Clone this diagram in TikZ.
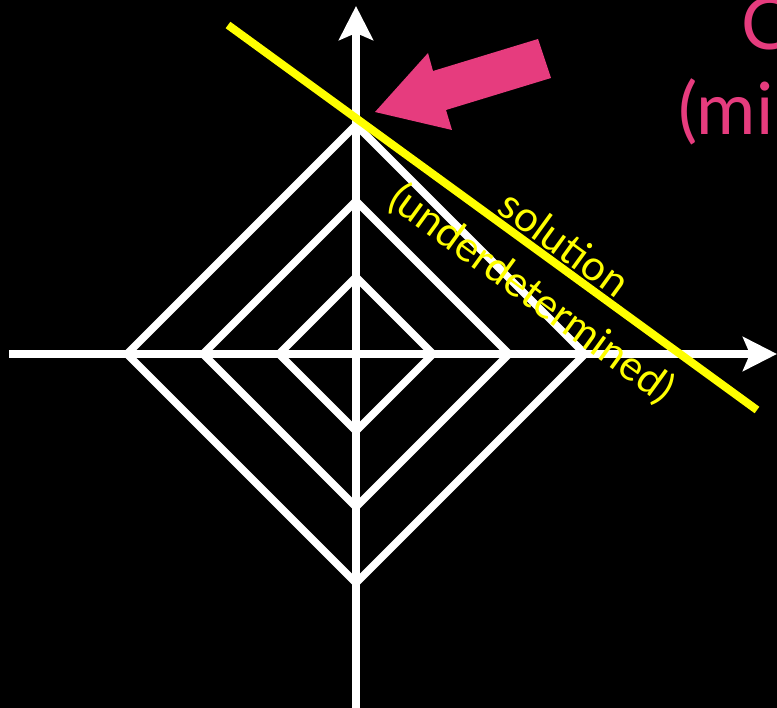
\documentclass[tikz,border=0pt]{standalone}
\usepackage{fontspec}
\setmainfont{Lato}
\usetikzlibrary{arrows.meta,calc}
\definecolor{pinkish}{HTML}{E63C7E}
\definecolor{yel}{HTML}{FFFF00}
\tikzset{
  axisline/.style={white,line width=8pt,-{Stealth[length=34pt,width=34pt,inset=7pt]}},
  diamondline/.style={white,line width=7.5pt,line join=miter},
  soln/.style={yel,line width=8pt},
  yeltext/.style={yel,font=\fontsize{42}{46}\selectfont,rotate=-36,inner sep=0pt},
  pinktext/.style={pinkish,font=\fontsize{72}{76}\selectfont,inner sep=0pt,anchor=base west}
}
\begin{document}
\begin{tikzpicture}[x=1pt,y=-1pt]
\useasboundingbox (0,0) rectangle (777,708);
\fill[black] (0,0) rectangle (777,708);
\clip (0,0) rectangle (777,708);
\coordinate (O) at (356,354);
\coordinate (xs) at (9,354);
\coordinate (xe) at (777,354);
\coordinate (ys) at (356,708);
\coordinate (ye) at (356,6);
% diamonds
\foreach \r in {77,153,229}{
  \draw[diamondline] ($(O)+(\r,0)$) -- ($(O)+(0,\r)$) -- ($(O)+(-\r,0)$) -- ($(O)+(0,-\r)$) -- cycle;
}
% axes
\draw[axisline] (xs) -- (xe);
\draw[axisline] (ys) -- (ye);
% solution line
\coordinate (la) at (228,25);
\coordinate (lb) at (757,410);
\draw[soln] (la) -- (lb);
\node[yeltext] (sol) at (565,243) {solution};
\node[yeltext] (und) at (532,294) {(underdetermined)};
% pink arrow
\fill[pinkish] (375,112) -- (428,53) -- (433,71) -- (538,39) -- (551,78) -- (446,110) -- (452,130) -- cycle;
\node[pinktext] (c) at (741,50) {C};
\node[pinktext] (mi) at (678,135) {(mi};
\end{tikzpicture}
\end{document}
